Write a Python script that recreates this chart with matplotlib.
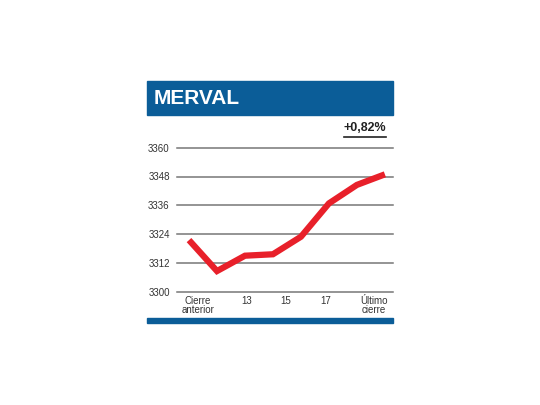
import matplotlib
matplotlib.use("Agg")
import matplotlib.pyplot as plt
from matplotlib.patches import Rectangle
from matplotlib.lines import Line2D

values = [3321.5, 3308.6, 3315.0, 3315.6, 3322.9, 3336.8, 3344.5, 3348.9]
yticks = [3300, 3312, 3324, 3336, 3348, 3360]
tick_pos = [0.32, 2.07, 3.46, 4.89, 6.6]
tick_labels = ["Cierre\nanterior", "13", "15", "17", "Último\ncierre"]
title = "MERVAL"
change = "+0,82%"

W, H = 540, 405
fig = plt.figure(figsize=(5.4, 4.05), dpi=100)
plt.rcParams['font.family'] = ['Liberation Sans', 'DejaVu Sans']
blue = "#0b5d98"

def fx(x): return x / W
def fy(y): return 1 - y / H

fig.patches.append(Rectangle((fx(147), fy(115)), fx(393) - fx(147), fy(81) - fy(115),
                             transform=fig.transFigure, color=blue, zorder=0))
fig.patches.append(Rectangle((fx(147), fy(323)), fx(393) - fx(147), fy(318) - fy(323),
                             transform=fig.transFigure, color=blue, zorder=0))
fig.text(fx(154), fy(98), title, color="white", fontsize=15, fontweight="bold",
         va="center", ha="left")
fig.text(fx(386), fy(128), change, color="#222222", fontsize=9, fontweight="bold",
         va="center", ha="right")
fig.lines.append(Line2D([fx(344), fx(386)], [fy(136.5), fy(136.5)], transform=fig.transFigure,
                        color="#222222", lw=1.2))

ax = fig.add_axes([fx(176.7), fy(291.7), fx(393) - fx(176.7), fy(147.7) - fy(291.7)])
for s in ax.spines.values():
    s.set_visible(False)
ax.set_ylim(3300, 3360)
ax.set_xlim(-0.44, 7.29)
for t in yticks:
    ax.axhline(t, color="#777777", lw=1.1, zorder=1, clip_on=False)
ax.plot(range(len(values)), values, color="#e8202a", lw=4.5, solid_capstyle="butt",
        solid_joinstyle="miter", zorder=3)
ax.set_yticks(yticks)
ax.set_yticklabels([str(t) for t in yticks], fontsize=7, color="#333333")
ax.tick_params(axis="y", length=0, pad=5)
ax.set_xticks(tick_pos)
ax.set_xticklabels(tick_labels, fontsize=7, color="#333333", linespacing=0.95)
ax.tick_params(axis="x", length=0, pad=3)
fig.savefig("out.png", dpi=100)
